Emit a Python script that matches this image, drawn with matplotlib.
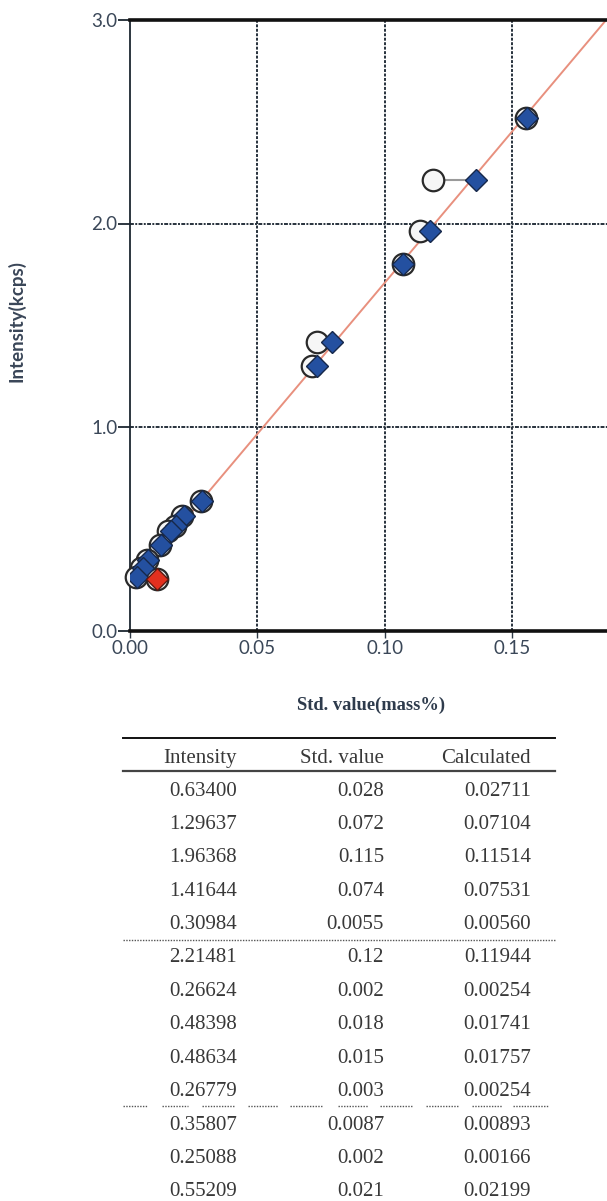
import numpy as np
import matplotlib
matplotlib.use("Agg")
import matplotlib.pyplot as plt

# calibration points: intensity, std value, calculated
intensity = [2.517, 2.212, 1.964, 1.800, 1.418, 1.298, 0.637, 0.565,
             0.512, 0.490, 0.419, 0.345, 0.305, 0.262]
std_value = [0.1557, 0.1192, 0.1139, 0.1071, 0.0736, 0.0714, 0.0280, 0.0205,
             0.0175, 0.0150, 0.0118, 0.0068, 0.0045, 0.0022]
calc_value = [0.1560, 0.1360, 0.1177, 0.1071, 0.0794, 0.0733, 0.0282, 0.0212,
              0.0180, 0.0160, 0.0120, 0.0072, 0.0050, 0.0026]
# the excluded (red) point
red_intensity = [0.252]
red_std = [0.0105]
red_calc = [0.0105]

# calibration line
fit_slope = 14.85
fit_intercept = 0.223

x_ticks = [0.0, 0.05, 0.10, 0.15]
x_ticklabels = ["0.00", "0.05", "0.10", "0.15"]
y_ticks = [0.0, 1.0, 2.0, 3.0]
y_ticklabels = ["0.0", "1.0", "2.0", "3.0"]

# table under the chart
tbl_header = ["Intensity", "Std. value", "Calculated"]
tbl_intensity = [0.63400, 1.29637, 1.96368, 1.41644, 0.30984, 2.21481, 0.26624,
                 0.48398, 0.48634, 0.26779, 0.35807, 0.25088, 0.55209]
tbl_std = [0.028, 0.072, 0.115, 0.074, 0.0055, 0.12, 0.002,
           0.018, 0.015, 0.003, 0.0087, 0.002, 0.021]
tbl_calc = [0.02711, 0.07104, 0.11514, 0.07531, 0.00560, 0.11944, 0.00254,
            0.01741, 0.01757, 0.00254, 0.00893, 0.00166, 0.02199]

W, H = 607, 1201
fig = plt.figure(figsize=(W / 100, H / 100), dpi=100)
fig.patch.set_facecolor("white")

# ---- chart ----
left, right, top, bottom = 130, 607, 20, 630.5
ax = fig.add_axes([left / W, 1 - bottom / H, (right - left) / W, (bottom - top) / H])
ax.set_xlim(0, (right - left) / 2546)
ax.set_ylim(0, 3.0)

gridc = "#27313c"
for xv in x_ticks[1:]:
    ax.axvline(xv, color=gridc, lw=1.4, ls=(0, (1.5, 0.8)), zorder=1)
for yv in y_ticks[1:-1]:
    ax.axhline(yv, color=gridc, lw=1.4, ls=(0, (2.0, 0.7, 1.0, 0.7)), zorder=1)

xs = np.array(ax.get_xlim())
ax.plot(xs, fit_intercept + fit_slope * xs, color="#e8907e", lw=1.4, zorder=2)

for s, c, i in zip(std_value + red_std, calc_value + red_calc, intensity + red_intensity):
    ax.plot([s, c], [i, i], color="#9a9a9a", lw=1.5, zorder=3)

ax.plot(std_value + red_std, intensity + red_intensity, "o", ms=15.5,
        mfc="#f6f6f6", mec="#2a2a2a", mew=1.6, zorder=4, clip_on=False)
ax.plot(calc_value, intensity, "D", ms=11.5, mfc="#2450a0", mec="#16284a",
        mew=1.0, zorder=5)
ax.plot(red_calc, red_intensity, "D", ms=11.5, mfc="#e2301e", mec="#5a1a12",
        mew=1.0, zorder=5)

ax.spines["right"].set_visible(False)
ax.spines["top"].set_linewidth(2.6)
ax.spines["top"].set_color("#111111")
ax.spines["bottom"].set_linewidth(2.6)
ax.spines["bottom"].set_color("#111111")
ax.spines["left"].set_linewidth(1.3)
ax.spines["left"].set_color("#1c2630")

tick_font = dict(family="Lato", size=13.5)
ax.set_xticks(x_ticks)
ax.set_xticklabels(x_ticklabels, color="#3a4758", **tick_font)
ax.set_yticks(y_ticks)
ax.set_yticklabels(y_ticklabels, color="#3a4758", **tick_font)
ax.tick_params(axis="y", direction="out", length=8.5, width=1.3, color="#1c2630", pad=0.5)
ax.tick_params(axis="x", direction="out", length=5, width=1.0, color="#2f3a46", pad=2)

fig.text(16 / W, 1 - 321 / H, "Intensity(kcps)", rotation=90, ha="center", va="center",
         family="Lato", weight="bold", size=13.5, color="#3a4658")
fig.text(371 / W, 1 - 705 / H, "Std. value(mass%)", ha="center", va="center",
         family="Liberation Serif", weight="bold", size=13.3, color="#2e3b4c")

# ---- table ----
tab = fig.add_axes([0, 0, 1, 1])
tab.set_xlim(0, W)
tab.set_ylim(H, 0)
tab.axis("off")
tab.patch.set_visible(False)

tfont = dict(family="Liberation Serif", size=15, color="#383838")
col_right = [237, 384, 531]
tab.plot([123, 555], [737.7, 737.7], color="#111111", lw=1.4)
tab.plot([123, 555], [770.7, 770.7], color="#444444", lw=1.6)
for cx, head in zip(col_right, tbl_header):
    tab.text(cx, 763.3, head, ha="right", va="baseline", **tfont)

row0, row_h = 795.5, 33.4
for k in range(len(tbl_intensity)):
    yb = row0 + row_h * k
    tab.text(col_right[0], yb, f"{tbl_intensity[k]:.5f}", ha="right", va="baseline", **tfont)
    tab.text(col_right[1], yb, str(tbl_std[k]), ha="right", va="baseline", **tfont)
    tab.text(col_right[2], yb, f"{tbl_calc[k]:.5f}", ha="right", va="baseline", **tfont)

tab.plot([123, 555], [939.5, 939.5], color="#555555", lw=1.0, ls=(0, (1, 1)))
segments = [(123, 147), (162, 188), (202, 235), (248, 278), (290, 323),
            (338, 368), (380, 412), (426, 458), (472, 502), (513, 548)]
for a, b in segments:
    tab.plot([a, b], [1106, 1106], color="#555555", lw=1.0, ls=(0, (1, 1)))

fig.savefig("out.png", dpi=100)
